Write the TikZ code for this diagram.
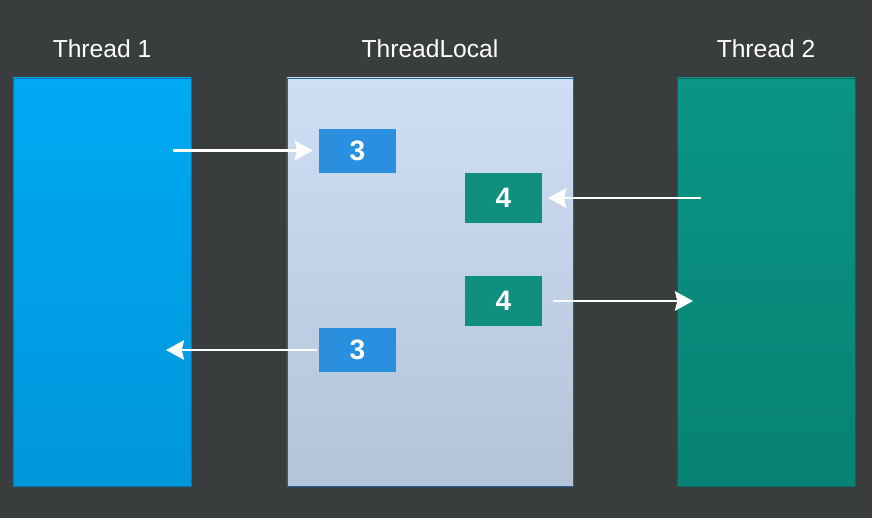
\documentclass[tikz,border=0pt]{standalone}
\usepackage{fontspec}
\setmainfont{Liberation Sans}
\usepackage{tikz}
\usetikzlibrary{arrows.meta,calc,positioning}
\definecolor{bgdark}{HTML}{3A3D3E}
\definecolor{blueA}{HTML}{00A9F2}
\definecolor{blueB}{HTML}{0096DC}
\definecolor{paleA}{HTML}{CEDEF4}
\definecolor{paleB}{HTML}{B3C3D8}
\definecolor{greenA}{HTML}{0A9585}
\definecolor{greenB}{HTML}{078274}
\definecolor{boxblue}{HTML}{2A8FDE}
\definecolor{boxgreen}{HTML}{0E8F80}
\tikzstyle{column} = [rectangle, minimum width = 5.34cm, minimum height = 12.24cm, inner sep = 0pt]
\tikzstyle{title} = [text = white, font = \fontsize{21}{21}\selectfont, inner sep = 0pt]
\tikzstyle{value} = [rectangle, text = white, font = \bfseries\fontsize{24}{24}\selectfont,
minimum width = 2.31cm, minimum height = 1.32cm, inner sep = 0pt]
\tikzstyle{line} = [draw = white, line width = 2.5pt, -{Stealth[length=0.54cm, width=0.58cm, inset=0.07cm]}]

\begin{document}
\begin{tikzpicture}[x = 0.03cm, y = -0.03cm]

\fill [bgdark] (0,0) rectangle (872,518);
\useasboundingbox (0,0) rectangle (872,518);

\node [column, top color = blueA, bottom color = blueB, draw = blueB!80!black, line width = 0.4pt] (thread1) at (102,282) {};
\node [column, minimum width = 8.58cm, top color = paleA, middle color = paleA!85!paleB, bottom color = paleB, draw = boxblue!70!black, line width = 0.6pt] (local) at (430,282) {};
\node [column, top color = greenA, bottom color = greenB, draw = greenB!80!black, line width = 0.4pt] (thread2) at (766,282) {};

\node [title, above = 0.6cm of thread1.north, anchor = base] (title1) {Thread 1};
\node [title, above = 0.6cm of local.north, anchor = base] (titlelocal) {ThreadLocal};
\node [title, above = 0.6cm of thread2.north, anchor = base] (title2) {Thread 2};

\node [value, fill = boxblue] (set3) at (357.5,150.5) {3};
\node [value, fill = boxgreen, minimum height = 1.5cm] (set4) at (503.5,198) {4};
\node [value, fill = boxgreen, minimum height = 1.5cm] (get4) at (503.5,301) {4};
\node [value, fill = boxblue] (get3) at (357.5,350) {3};

\coordinate (in1) at (173,150.5);
\coordinate (out1) at (166,350);
\coordinate (in2) at (701,198);
\coordinate (out2) at (693,301);

\path [line, shorten > = 0.18cm] (in1) -- (set3.west);
\path [line, shorten > = 0.18cm] (in2) -- (set4.east);
\path [line, shorten < = 0.33cm] (get4.east) -- (out2);
\path [line, shorten < = 0.06cm] (get3.west) -- (out1);
\end{tikzpicture}
\end{document}
